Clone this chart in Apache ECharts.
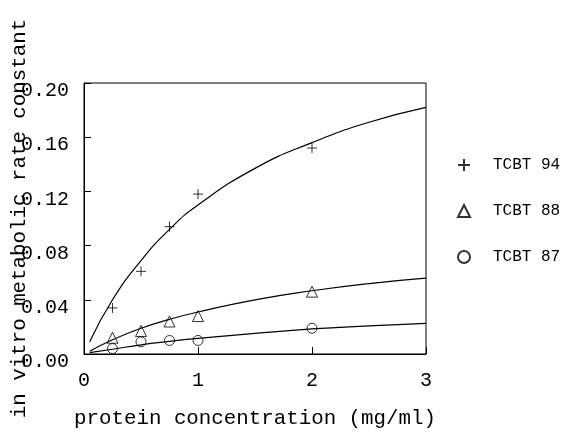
<!DOCTYPE html>
<html>
<head>
<meta charset="utf-8">
<script src="https://cdn.jsdelivr.net/npm/echarts@6/dist/echarts.min.js"></script>
<style>
html,body{margin:0;padding:0;background:#fff;}
#chart{width:567px;height:432px;}
</style>
</head>
<body>
<div id="chart"></div>
<script>
// Measured data points (x = protein concentration mg/ml)
var xPoints = [0.25, 0.5, 0.75, 1, 2];
var tcbt94 = [0.034, 0.061, 0.094, 0.118, 0.152];
var tcbt88 = [0.012, 0.017, 0.024, 0.028, 0.046];
var tcbt87 = [0.004, 0.009, 0.010, 0.010, 0.019];

// Fitted curves, values
var curveX = [0.05, 0.25, 0.5, 0.75, 1, 1.5, 2, 2.5, 3];
var curve94 = [0.009, 0.040, 0.069, 0.092, 0.110, 0.137, 0.156, 0.171, 0.182];
var curve88 = [0.002, 0.0105, 0.019, 0.0256, 0.031, 0.040, 0.0467, 0.052, 0.056];
var curve87 = [0.001, 0.0035, 0.0068, 0.0093, 0.0115, 0.0152, 0.0185, 0.0207, 0.0226];

var yTicks = ['0.00', '0.04', '0.08', '0.12', '0.16', '0.20'];
var seriesNames = ['TCBT 94', 'TCBT 88', 'TCBT 87'];

function pairs(xs, ys) { return xs.map(function (x, i) { return [x, ys[i]]; }); }

var FONT = 'Liberation Mono';
var plusPath = 'path://M0,5L10,5M5,0L5,10';

var chart = echarts.init(document.getElementById('chart'), null, {renderer: 'canvas'});
var hollow = {color: 'rgba(0,0,0,0)', borderColor: '#000', borderWidth: 1};
var option = {
  animation: false,
  backgroundColor: '#fff',
  grid: {left: 84, right: 141, top: 83, bottom: 78, containLabel: false, outerBoundsMode: 'none',
    show: true, borderColor: '#000', borderWidth: 1, backgroundColor: 'transparent'},
  xAxis: {
    type: 'value', min: 0, max: 3, interval: 1,
    name: 'protein concentration (mg/ml)', nameLocation: 'middle', nameGap: 54, nameMoveOverlap: false,
    nameTextStyle: {fontFamily: FONT, fontSize: 20.8, color: '#000'},
    axisLine: {show: true, lineStyle: {color: '#000', width: 1}},
    axisTick: {show: true, inside: true, length: 7, lineStyle: {color: '#000'}},
    axisLabel: {fontFamily: FONT, fontSize: 20, color: '#000', margin: 17},
    splitLine: {show: false}
  },
  yAxis: {
    type: 'value', min: 0, max: 0.2, interval: 0.04,
    name: 'in vitro metabolic rate constant', nameLocation: 'middle', nameGap: 54, nameRotate: 90, nameMoveOverlap: false,
    nameTextStyle: {fontFamily: FONT, fontSize: 20.8, color: '#000'},
    axisLine: {show: true, lineStyle: {color: '#000', width: 1}},
    axisTick: {show: true, inside: true, length: 7, lineStyle: {color: '#000'}},
    axisLabel: {fontFamily: FONT, fontSize: 20, color: '#000', margin: 15, verticalAlign: 'top', lineHeight: 16,
      formatter: function (v) { return yTicks[Math.round(v / 0.04)]; }},
    splitLine: {show: false}
  },
  legend: {
    orient: 'vertical', left: 452, top: 152, itemGap: 30, itemWidth: 12, itemHeight: 12,
    data: seriesNames,
    textStyle: {fontFamily: FONT, fontSize: 16, color: '#000', padding: [0, 0, 0, 18]}
  },
  series: [
    {name: 'fit94', type: 'line', data: pairs(curveX, curve94), smooth: true, showSymbol: false, symbol: 'none', lineStyle: {color: '#000', width: 1.2}, silent: true},
    {name: 'fit88', type: 'line', data: pairs(curveX, curve88), smooth: true, showSymbol: false, symbol: 'none', lineStyle: {color: '#000', width: 1.2}, silent: true},
    {name: 'fit87', type: 'line', data: pairs(curveX, curve87), smooth: true, showSymbol: false, symbol: 'none', lineStyle: {color: '#000', width: 1.2}, silent: true},
    {name: seriesNames[0], type: 'scatter', data: pairs(xPoints, tcbt94), symbol: plusPath, symbolSize: 10, itemStyle: hollow},
    {name: seriesNames[1], type: 'scatter', data: pairs(xPoints, tcbt88), symbol: 'triangle', symbolSize: 11, itemStyle: hollow},
    {name: seriesNames[2], type: 'scatter', data: pairs(xPoints, tcbt87), symbol: 'circle', symbolSize: 10, itemStyle: hollow}
  ]
};
chart.setOption(option);
</script>
</body>
</html>
